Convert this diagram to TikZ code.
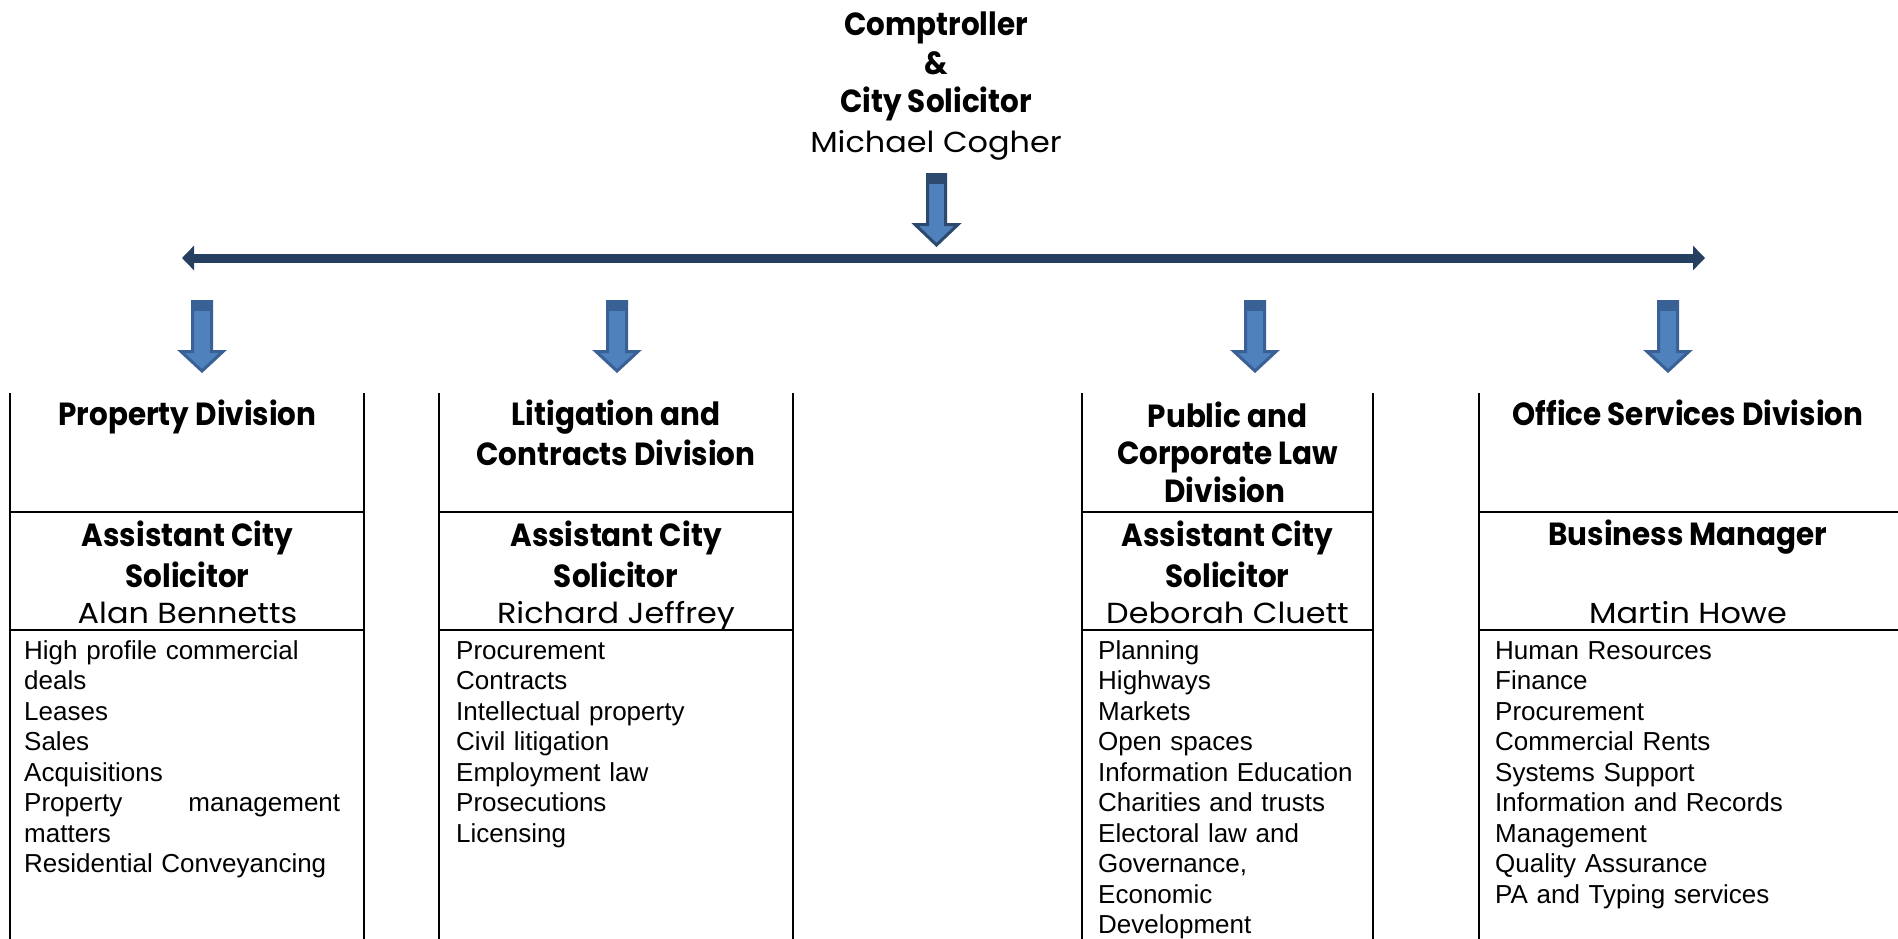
\documentclass[tikz,border=0pt]{standalone}
\usepackage{fontspec}
\newfontfamily\gothic[FakeStretch=0.92]{Poppins}
\newfontfamily\gothicname[FakeStretch=1.1]{Poppins}
\newfontfamily\arialf{Liberation Sans}
\usetikzlibrary{arrows.meta}
\definecolor{navy}{HTML}{243F60}
\definecolor{arrfill}{HTML}{4F81BD}
\definecolor{arredge}{HTML}{3A6196}
\definecolor{arrtopedge}{HTML}{2B4A6E}
\newcommand\blkarrow[7]{%
  \filldraw[blkstyle, draw=#7] (#1-#5,#2) -- (#1+#5,#2) -- (#1+#5,#3) -- (#1+#6,#3)
     -- (#1,#4) -- (#1-#6,#3) -- (#1-#5,#3) -- cycle;
  \fill[#7] (#1-#5-1.5,#2-1.5) rectangle (#1+#5+1.5,#2+9);
}
\tikzset{
  hd/.style={font={\gothic\bfseries\fontsize{32}{40}\selectfont}, inner sep=0pt, anchor=base},
  nm/.style={font={\gothicname\fontsize{29}{32}\selectfont}, inner sep=0pt, anchor=base},
  lst/.style={font={\arialf\fontsize{26}{30.5}\selectfont}, inner sep=0pt, anchor=north west,
              text width=345pt, align=left},
  rule/.style={line width=2pt, black},
  blkstyle/.style={fill=arrfill, line width=3pt},
  hline/.style={navy, line width=9pt, {Triangle[length=12pt,width=24pt]}-{Triangle[length=12pt,width=24pt]}}
}
\begin{document}
\begin{tikzpicture}[x=1pt, y=-1pt]
\fill[white] (0,0) rectangle (1898,938);
\useasboundingbox (0,0) rectangle (1898,938);

% title
\node[hd] (t1) at (936,35) {Comptroller};
\node[hd] (t2) at (936,74) {\&};
\node[hd] (t3) at (936,112) {City Solicitor};
\node[nm] (t4) at (936,152) {Michael Cogher};

% top arrow and distribution line
\blkarrow{936.5}{174.5}{224.5}{245}{9}{21.5}{arrtopedge}
\coordinate (hl) at (182,258);
\coordinate (hr) at (1705,258);
\draw[hline] (hl) -- (hr);

% division arrows
\blkarrow{202}{301.5}{351.5}{371}{9.5}{21}{arredge}
\blkarrow{617}{301.5}{351.5}{371}{9.5}{21}{arredge}
\blkarrow{1255}{301.5}{351.5}{371}{9.5}{21}{arredge}
\blkarrow{1668}{301.5}{351.5}{371}{9.5}{21}{arredge}

% column rules
\foreach \l/\r in {10/364, 439/793, 1082/1373, 1479/1902}{
  \draw[rule] (\l,393) -- (\l,940);
  \draw[rule] (\r,393) -- (\r,940);
  \draw[rule] (\l,512) -- (\r,512);
  \draw[rule] (\l,630) -- (\r,630);
}

% column 1
\node[hd] (c1h) at (187.5,425) {Property Division};
\node[hd] (c1a) at (187.5,546) {Assistant City};
\node[hd] (c1b) at (187.5,587) {Solicitor};
\node[nm] (c1n) at (187.5,623) {Alan Bennetts};
\node[lst] (c1l) at (24,637.65) {\strut High profile commercial\\deals\\Leases\\Sales\\Acquisitions\\
  \makebox[316pt][s]{Property\hfill management}\\matters\\Residential Conveyancing};

% column 2
\node[hd] (c2h) at (616,425) {Litigation and};
\node[hd] (c2h2) at (616,465) {Contracts Division};
\node[hd] (c2a) at (616,546) {Assistant City};
\node[hd] (c2b) at (616,587) {Solicitor};
\node[nm] (c2n) at (616,623) {Richard Jeffrey};
\node[lst] (c2l) at (456,637.65) {\strut Procurement\\Contracts\\Intellectual property\\Civil litigation\\
  Employment law\\Prosecutions\\Licensing};

% column 3
\node[hd] (c3h) at (1227.5,427) {Public and};
\node[hd] (c3h2) at (1227.5,464) {Corporate Law};
\node[hd] (c3h3) at (1225,502) {Division};
\node[hd] (c3a) at (1227.5,546) {Assistant City};
\node[hd] (c3b) at (1227.5,587) {Solicitor};
\node[nm] (c3n) at (1227.5,623) {Deborah Cluett};
\node[lst] (c3l) at (1098,637.65) {\strut Planning\\Highways\\Markets\\Open spaces\\Information Education\\
  Charities and trusts\\Electoral law and\\Governance,\\Economic\\Development};

% column 4
\node[hd] (c4h) at (1688,425) {Office Services Division};
\node[hd] (c4a) at (1688,545) {Business Manager};
\node[nm] (c4n) at (1688,623) {Martin Howe};
\node[lst] (c4l) at (1495,637.65) {\strut Human Resources\\Finance\\Procurement\\Commercial Rents\\
  Systems Support\\Information and Records\\Management\\Quality Assurance\\PA and Typing services};
\end{tikzpicture}
\end{document}
